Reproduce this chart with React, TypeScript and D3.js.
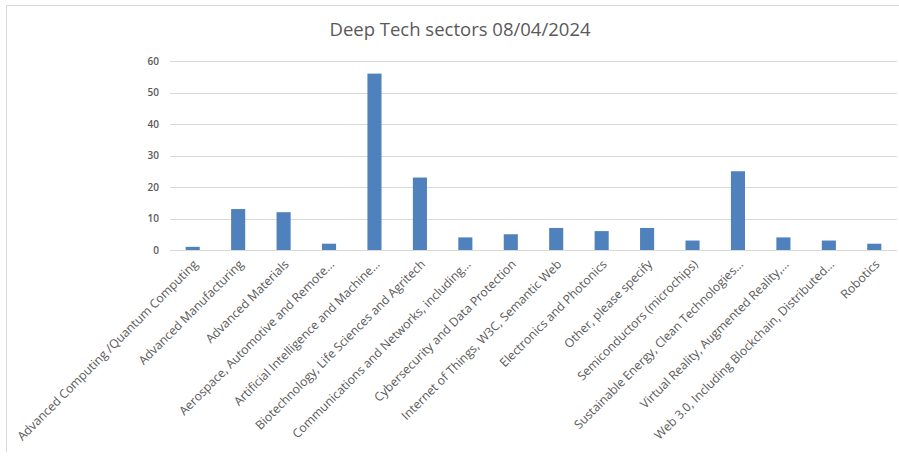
import React from "react";
import * as d3 from "d3";

const categories: string[] = [
  "Advanced Computing /Quantum Computing",
  "Advanced Manufacturing",
  "Advanced Materials",
  "Aerospace, Automotive and Remote…",
  "Artificial Intelligence and Machine…",
  "Biotechnology, Life Sciences and Agritech",
  "Communications and Networks, including…",
  "Cybersecurity and Data Protection",
  "Internet of Things, W3C, Semantic Web",
  "Electronics and Photonics",
  "Other, please specify",
  "Semiconductors (microchips)",
  "Sustainable Energy, Clean Technologies…",
  "Virtual Reality, Augmented Reality,…",
  "Web 3.0, Including Blockchain, Distributed…",
  "Robotics",
];
const values: number[] = [1, 13, 12, 2, 56, 23, 4, 5, 7, 6, 7, 3, 25, 4, 3, 2];
const yTicks: number[] = [0, 10, 20, 30, 40, 50, 60];
const title = "Deep Tech sectors 08/04/2024";

const W = 899;
const H = 456;
const left = 170;
const right = 897;
const top = 61;
const bottom = 250;

export default function App() {
  const x = d3.scaleBand<string>().domain(categories).range([left, right]).paddingInner(0.69).paddingOuter(0.345);
  const y = d3.scaleLinear().domain([0, 60]).range([bottom, top]);
  const font = "'Open Sans', 'Liberation Sans', sans-serif";
  return (
    <svg width={W} height={H} style={{ position: "absolute", left: 0, top: 0, background: "#fff" }}>
      <rect x={0} y={0} width={W} height={H} fill="#fff" />
      <line x1={6} y1={5.5} x2={W} y2={5.5} stroke="#d9d9d9" strokeWidth={1} />
      <line x1={6.5} y1={5} x2={6.5} y2={452} stroke="#d9d9d9" strokeWidth={1} />
      <text x={460} y={36} textAnchor="middle" fontFamily={font} fontSize={18.5} fill="#595959">
        {title}
      </text>
      {yTicks.map((t) => (
        <g key={t}>
          <line x1={left} x2={right} y1={Math.round(y(t)) + 0.5} y2={Math.round(y(t)) + 0.5} stroke="#d9d9d9" strokeWidth={1} />
          <text x={159} y={y(t)} dy="0.35em" textAnchor="end" fontFamily={font} fontSize={10} fontWeight={600} fill="#595959">
            {t}
          </text>
        </g>
      ))}
      {categories.map((c, i) => (
        <rect key={c} x={x(c)} y={y(values[i])} width={x.bandwidth()} height={y(0) - y(values[i])} fill="#4f81bd" />
      ))}
      {categories.map((c) => {
        const cx = (x(c) as number) + x.bandwidth() / 2 + 3;
        const cy = 262;
        return (
          <text key={c} transform={`translate(${cx},${cy}) rotate(-45)`} textAnchor="end" dy="0.35em" fontFamily={font} fontSize={12.2} fill="#595959">
            {c}
          </text>
        );
      })}
    </svg>
  );
}
